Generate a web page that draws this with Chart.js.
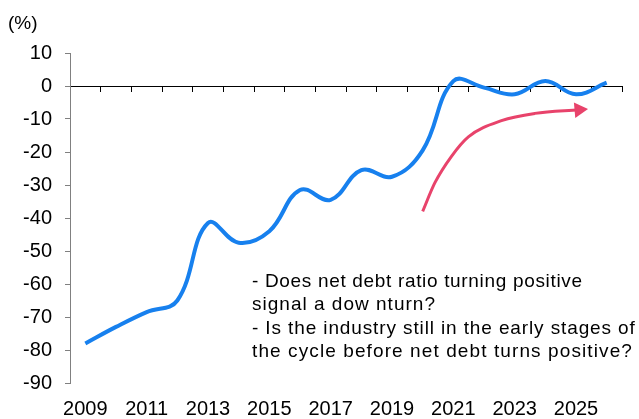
<!DOCTYPE html>
<html>
<head>
<meta charset="utf-8">
<script src="https://cdn.jsdelivr.net/npm/chart.js@4/dist/chart.umd.min.js"></script>
<style>
html,body{margin:0;padding:0;background:#fff;}
#c{display:block;}
</style>
</head>
<body>
<canvas id="c" width="639" height="419"></canvas>
<script>
const years = ['2009','2010','2011','2012','2013','2014','2015','2016','2017','2018','2019','2020','2021','2022','2023','2024','2025','2026'];
const netDebtRatio = [-78, -73, -68.5, -65, -41.5, -47.5, -44, -31.5, -34.5, -25.5, -27.5, -19.5, 1.5, -0.5, -2.5, 1.5, -2.5, 1.0];
const arrowYears = [2020, 2020.4, 2020.94, 2021.49, 2022.57, 2023.66, 2025.1];
const arrowValues = [-38, -29.3, -21.3, -15.4, -10.5, -8.3, -7.2];
const yTicks = [10, 0, -10, -20, -30, -40, -50, -60, -70, -80, -90];
const unitLabel = '(%)';
const noteLines = [
  '- Does net debt ratio turning positive',
  'signal a dow nturn?',
  '- Is the industry still in the early stages of',
  'the cycle before net debt turns positive?'
];

const FONT = "'Liberation Sans', Arial, sans-serif";

const textPlugin = {
  id: 'texts',
  afterDraw(chart) {
    const ctx = chart.ctx;
    ctx.save();
    ctx.fillStyle = '#000';
    ctx.textBaseline = 'middle';
    ctx.textAlign = 'left';
    ctx.font = '19px ' + FONT;
    ctx.fillText(unitLabel, 8, 24);
    ctx.font = '19px ' + FONT;
    const ys = [282, 305, 329, 352];
    const widths = [330, 183, 383, 380];
    noteLines.forEach((t, i) => {
      try { ctx.letterSpacing = '0px'; } catch (e) {}
      const w = ctx.measureText(t).width;
      const sp = Math.max(0, (widths[i] - w) / (t.length - 1));
      try { ctx.letterSpacing = sp.toFixed(2) + 'px'; } catch (e) {}
      ctx.fillText(t, 252, ys[i]);
    });
    ctx.restore();
  }
};

new Chart(document.getElementById('c'), {
  type: 'line',
  data: {
    labels: years,
    datasets: [
      {
        data: netDebtRatio,
        borderColor: '#1780ee',
        borderWidth: 4,
        pointRadius: 0,
        tension: 0.4,
        fill: false,
        xAxisID: 'x',
        yAxisID: 'y',
        order: 1
      },
      {
        data: arrowYears.map((x, i) => ({ x: x, y: arrowValues[i] })),
        borderColor: '#e8436b',
        backgroundColor: '#e8436b',
        borderWidth: 3,
        pointRadius: arrowYears.map((_, i) => i === arrowYears.length - 1 ? 9 : 0),
        pointStyle: 'triangle',
        rotation: 85,
        pointBorderWidth: 0,
        cubicInterpolationMode: 'monotone',
        fill: false,
        xAxisID: 'x2',
        yAxisID: 'y',
        order: 2
      }
    ]
  },
  options: {
    responsive: false,
    devicePixelRatio: 1,
    animation: false,
    events: [],
    layout: { padding: { top: 53, right: 17, left: 0, bottom: 0 } },
    plugins: { legend: { display: false }, tooltip: { enabled: false } },
    scales: {
      x: {
        type: 'category',
        position: 'bottom',
        offset: true,
        grid: { display: false, drawTicks: false },
        border: { display: false },
        ticks: {
          autoSkip: false,
          maxRotation: 0,
          padding: 14,
          color: '#000',
          font: { family: FONT, size: 20 },
          callback: function (v, i) { return i % 2 === 0 ? this.getLabelForValue(v) : ''; }
        },
        afterFit(s) { s.height = 36; }
      },
      xz: {
        type: 'category',
        position: { y: 0 },
        offset: true,
        grid: { drawOnChartArea: false, drawTicks: true, tickLength: 5, offset: true, color: '#000', lineWidth: 1 },
        border: { display: true, color: '#000', width: 1 },
        ticks: { display: false },
        afterFit(s) { s.height = 0; }
      },
      x2: {
        type: 'linear',
        display: false,
        min: 2008.5,
        max: 2026.5
      },
      y: {
        min: -90,
        max: 10,
        afterBuildTicks(s) { s.ticks = yTicks.map(v => ({ value: v })); },
        grid: { drawOnChartArea: false, drawTicks: true, tickLength: 5, color: '#808080' },
        border: { display: true, color: '#808080', width: 1 },
        ticks: {
          padding: 13,
          color: '#000',
          font: { family: FONT, size: 20 }
        },
        afterFit(s) { s.width = 70; }
      }
    }
  },
  plugins: [textPlugin]
});
</script>
</body>
</html>
